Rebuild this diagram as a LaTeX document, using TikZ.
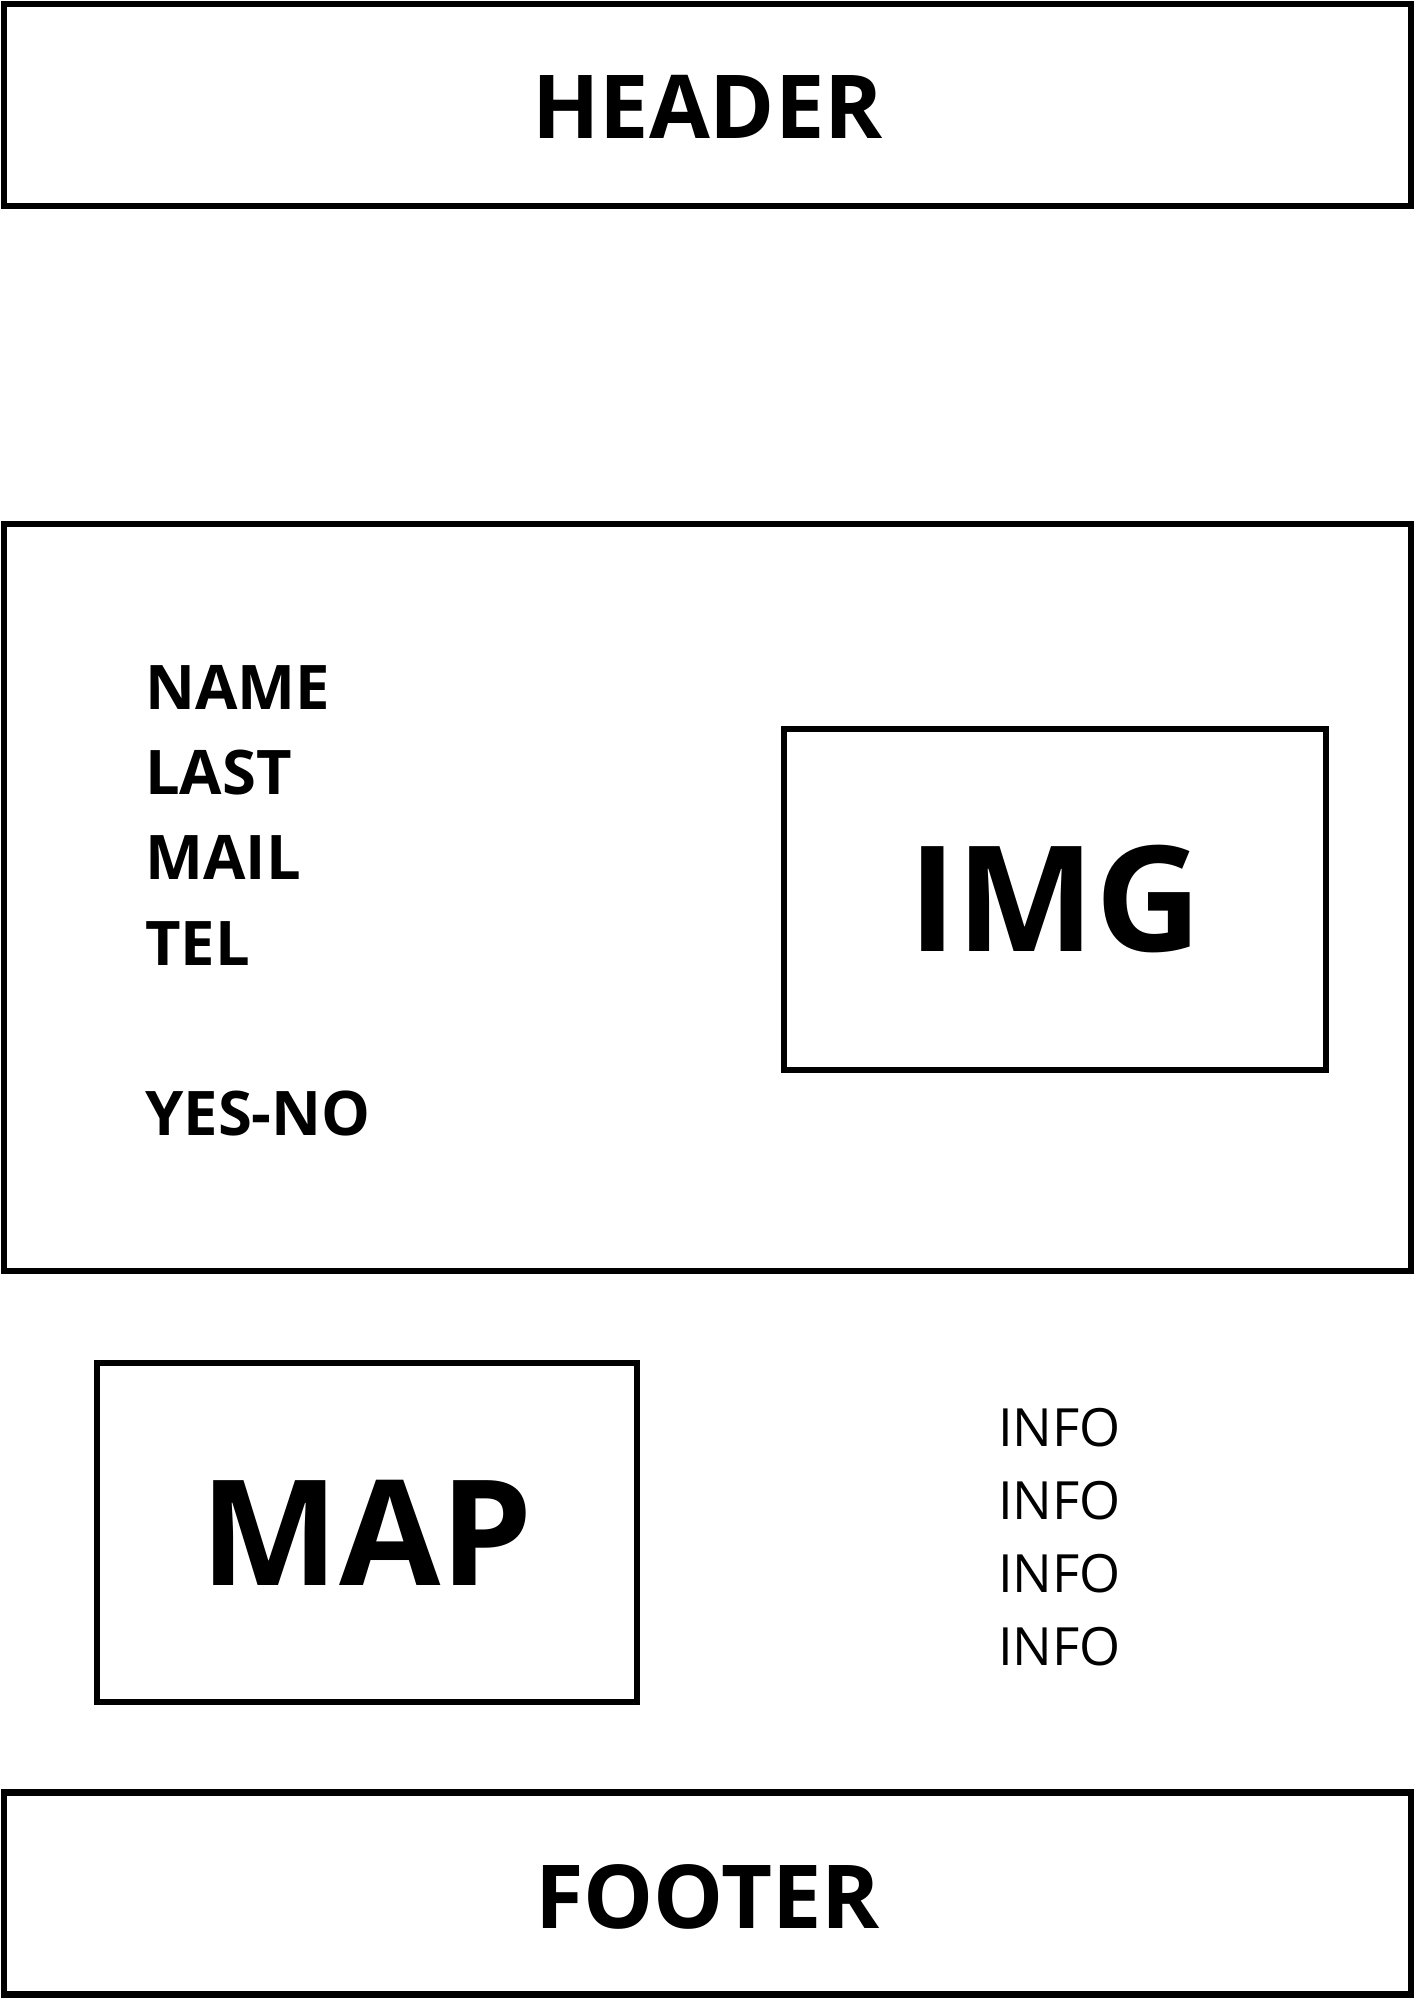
\documentclass[tikz,border=0pt]{standalone}
\usepackage{fontspec}
\setmainfont{Open Sans}
\usepackage{tikz}
\usetikzlibrary{positioning}

\begin{document}
\begin{tikzpicture}[x=0.1mm,y=-0.1mm,line width=1.85pt]
  \tikzstyle{frame}=[draw,inner sep=0pt]
  \tikzstyle{band}=[frame,minimum width=140.7mm,minimum height=20.2mm,font=\fontsize{25.1}{30}\selectfont\bfseries]
  \tikzstyle{pane}=[frame,font=\fontsize{41.8}{50}\selectfont\bfseries]
  \tikzstyle{list}=[inner sep=0pt,anchor=north west,align=left]

  \useasboundingbox (0,0) rectangle (1414,2000);

  \node[band,text height=18.9pt] (header) at (707.5,105) {HEADER};
  \node[frame,minimum width=140.7mm,minimum height=74.7mm] (main) at (707.5,897.5) {};
  \node[pane,minimum width=54.2mm,minimum height=34.1mm] (img) at (1055,899.5) {IMG};
  \node[list,font=\fontsize{17.5}{24.2}\selectfont\bfseries] (fields) at (142,662.5)
    {NAME\\LAST\\MAIL\\TEL\\[24.2pt]YES-NO};
  \node[pane,minimum width=54mm,minimum height=33.9mm] (map) at (367,1532.5) {MAP};
  \node[list,font=\fontsize{15}{20.8}\selectfont] (info) at (995,1405)
    {INFO\\INFO\\INFO\\INFO};
  \node[band,text height=20.3pt] (footer) at (707.5,1893.5) {FOOTER};
\end{tikzpicture}
\end{document}
